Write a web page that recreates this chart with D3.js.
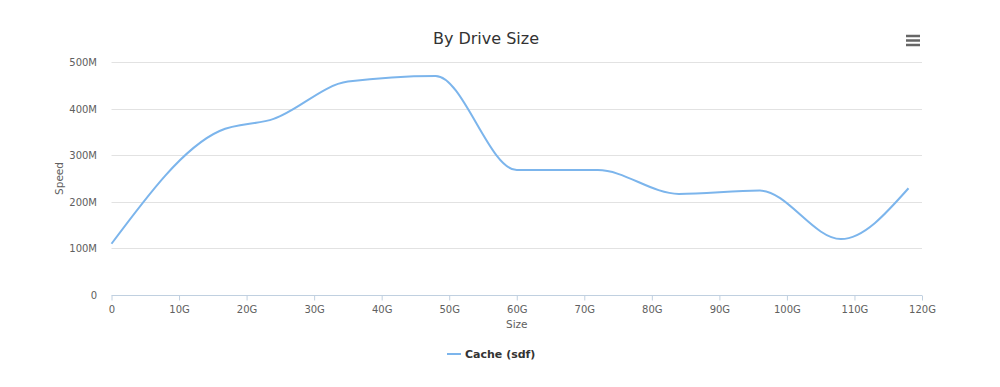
<!DOCTYPE html>
<html>
<head>
<meta charset="utf-8">
<script src="https://cdn.jsdelivr.net/npm/d3@7"></script>
<style>
  body { margin: 0; background: #fff; }
  svg { display: block; font-family: "DejaVu Sans", "Lucida Grande", Arial, sans-serif; }
</style>
</head>
<body>
<svg width="1000" height="387"></svg>
<script>
// dati
var taglie = [0, 16, 24, 35, 48, 60, 72, 84, 96, 108, 118];        // G
var velocita = [110, 352, 378, 458, 470, 268, 268, 217, 224, 120, 229]; // M
var ticksX = [0, 10, 20, 30, 40, 50, 60, 70, 80, 90, 100, 110, 120];
var ticksY = [0, 100, 200, 300, 400, 500];
var nomeSerie = "Cache (sdf)";

var svg = d3.select("svg");
var sinistra = 111.5, destra = 922, alto = 62, basso = 295;

var x = d3.scaleLinear().domain([0, 120]).range([sinistra, destra]);
var y = d3.scaleLinear().domain([0, 500]).range([basso, alto]);

// titolo
svg.append("text")
  .attr("x", 486).attr("y", 44)
  .attr("text-anchor", "middle")
  .attr("font-size", 16)
  .attr("fill", "#333")
  .text("By Drive Size");

// menu
[36, 40.5, 45].forEach(function(yy){
  svg.append("line")
    .attr("x1", 906).attr("x2", 920)
    .attr("y1", yy).attr("y2", yy)
    .attr("stroke", "#666").attr("stroke-width", 2.5);
});

// griglia orizzontale
svg.append("g")
  .selectAll("line")
  .data(ticksY.filter(function(d){ return d > 0 }))
  .enter().append("line")
  .attr("x1", sinistra).attr("x2", destra)
  .attr("y1", function(d){ return Math.round(y(d)) + 0.5 })
  .attr("y2", function(d){ return Math.round(y(d)) + 0.5 })
  .attr("stroke", "#e2e2e2");

// etichette asse y
svg.append("g")
  .selectAll("text")
  .data(ticksY)
  .enter().append("text")
  .attr("x", 97)
  .attr("y", function(d){ return y(d) + 4 })
  .attr("text-anchor", "end")
  .attr("font-size", 10)
  .attr("fill", "#606060")
  .text(function(d){ return d == 0 ? "0" : d + "M" });

svg.append("text")
  .attr("transform", "translate(63," + ((alto + basso) / 2) + ") rotate(-90)")
  .attr("text-anchor", "middle")
  .attr("font-size", 10.5)
  .attr("fill", "#606060")
  .text("Speed");

// asse x
var asseX = d3.axisBottom(x)
  .tickValues(ticksX)
  .tickSize(5)
  .tickPadding(5)
  .tickFormat(function(d){ return d == 0 ? "0" : d + "G" });

var gx = svg.append("g")
  .attr("transform", "translate(0," + (basso + 0.5) + ")")
  .call(asseX);
gx.select(".domain").attr("stroke", "#c0d0e0").attr("d", "M" + sinistra + ",0H" + destra);
gx.selectAll(".tick line").attr("stroke", "#c0d0e0");
gx.selectAll(".tick text")
  .attr("fill", "#606060")
  .attr("font-size", 10)
  .attr("font-family", "DejaVu Sans, sans-serif");

svg.append("text")
  .attr("x", (sinistra + destra) / 2).attr("y", 328)
  .attr("text-anchor", "middle")
  .attr("font-size", 10.5)
  .attr("fill", "#606060")
  .text("Size");

// linea della serie
var punti = taglie.map(function(d, i){ return [d, velocita[i]] });
var linea = d3.line()
  .x(function(d){ return x(d[0]) })
  .y(function(d){ return y(d[1]) })
  .curve(d3.curveMonotoneX);

svg.append("path")
  .datum(punti)
  .attr("d", linea)
  .attr("fill", "none")
  .attr("stroke", "#7cb5ec")
  .attr("stroke-width", 2)
  .attr("stroke-linejoin", "round");

// legenda
svg.append("line")
  .attr("x1", 447).attr("x2", 461)
  .attr("y1", 354).attr("y2", 354)
  .attr("stroke", "#7cb5ec").attr("stroke-width", 2);
svg.append("text")
  .attr("x", 465).attr("y", 358)
  .attr("font-size", 11)
  .attr("font-weight", "bold")
  .attr("fill", "#333")
  .text(nomeSerie);
</script>
</body>
</html>
